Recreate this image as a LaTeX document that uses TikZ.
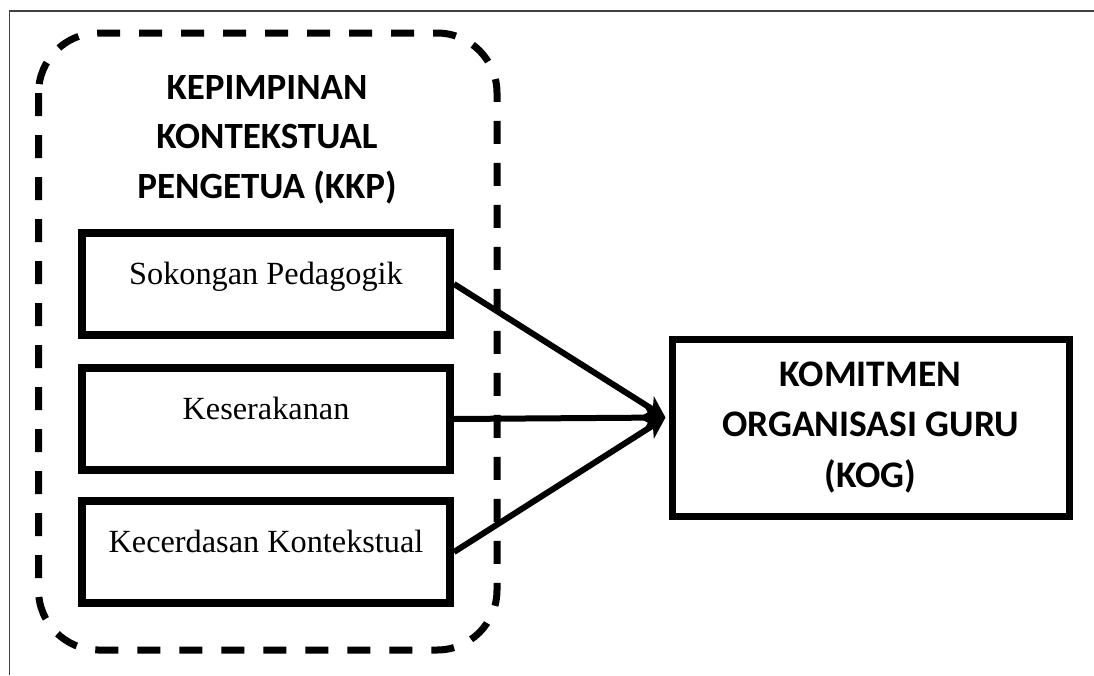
\documentclass[tikz,border=0pt]{standalone}
\usepackage{fontspec}
\setmainfont{Liberation Serif}
\newfontfamily\carlito{Carlito}
\usetikzlibrary{arrows.meta,calc}
\tikzset{
  subbox/.style={draw=black, line width=8pt, minimum width=368pt, minimum height=102pt,
    inner sep=0pt, text height=22pt, text depth=21pt, font=\fontsize{32.3}{38}\selectfont},
  kogbox/.style={draw=black, line width=7pt, minimum width=397pt, minimum height=177pt,
    inner sep=0pt, align=center, font=\carlito\bfseries\fontsize{37.5}{50.5}\selectfont},
  titletext/.style={align=center, inner sep=0pt, font=\carlito\bfseries\fontsize{37}{49.5}\selectfont},
  dashbox/.style={draw=black, line width=7pt, dash pattern=on 23pt off 19pt, rounded corners=60pt},
  frameline/.style={draw=black!75, line width=1.5pt},
  conn/.style={draw=black, line width=6pt, -{Stealth[length=21pt,width=23pt,inset=6pt]}}
}
\begin{document}
\begin{tikzpicture}[x=1pt,y=-1pt]
\useasboundingbox (0,0) rectangle (1094,675);
% page frame (top and left only)
\draw[frameline] (1094,11) -- (9.5,11) -- (9.5,675);
% dashed group
\draw[dashbox] (38.5,33) rectangle (497,650);
\node[titletext, anchor=north] (title) at (267,75) {KEPIMPINAN\\KONTEKSTUAL\\PENGETUA (KKP)};
% sub boxes
\node[subbox] (sp) at (266,284) {Sokongan Pedagogik};
\node[subbox] (ks) at (266,419) {Keserakanan};
\node[subbox] (kk) at (266,552) {Kecerdasan Kontekstual};
% target
\node[kogbox] (kog) at (870.5,427.5) {KOMITMEN\\ORGANISASI GURU\\(KOG)};
\coordinate (tip) at ([xshift=-3pt,yshift=10pt]kog.west);
% connectors
\draw[conn] (sp.east) -- (tip);
\draw[conn] (ks.east) -- (tip);
\draw[conn] (kk.east) -- (tip);
\end{tikzpicture}
\end{document}
